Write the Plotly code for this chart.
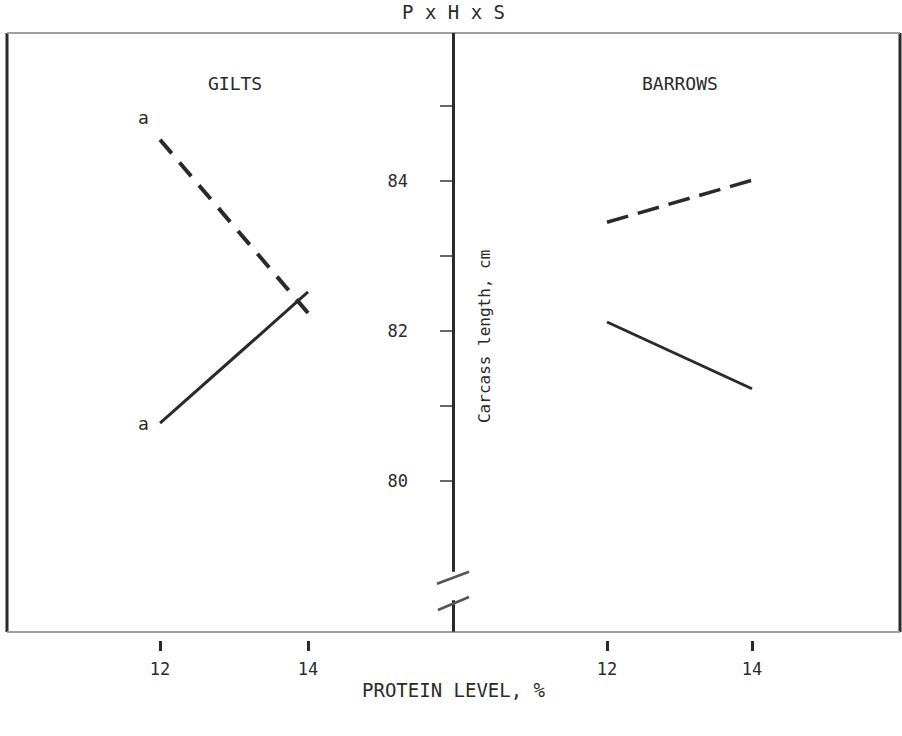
import plotly.graph_objects as go

# ---- data ----
protein = [12, 14]
gilts_dashed = [84.55, 82.24]
gilts_solid = [80.77, 82.52]
barrows_dashed = [83.45, 84.01]
barrows_solid = [82.12, 81.23]
y_tickvals = [80, 81, 82, 83, 84, 85]
y_ticktext = ["80", "", "82", "", "84", ""]
x_tickvals = [12, 14]
x_ticktext = ["12", "14"]

FONT = "DejaVu Sans Mono"
INK = "#2a2a2a"

fig = go.Figure()
fig.add_trace(go.Scatter(x=protein, y=gilts_dashed, mode="lines", xaxis="x", yaxis="y",
                         line=dict(color=INK, width=4, dash="18px,12px"), showlegend=False))
fig.add_trace(go.Scatter(x=protein, y=gilts_solid, mode="lines", xaxis="x", yaxis="y",
                         line=dict(color=INK, width=3), showlegend=False))
fig.add_trace(go.Scatter(x=protein, y=barrows_dashed, mode="lines", xaxis="x2", yaxis="y",
                         line=dict(color=INK, width=3.5, dash="22px,10px"), showlegend=False))
fig.add_trace(go.Scatter(x=protein, y=barrows_solid, mode="lines", xaxis="x2", yaxis="y",
                         line=dict(color=INK, width=3), showlegend=False))

yr = [77.88, 85.973]

xcommon = dict(tickvals=x_tickvals, ticktext=x_ticktext, ticks="outside", ticklen=10,
               tickwidth=2.5, tickcolor=INK, showline=False, showgrid=False, zeroline=False,
               ticklabelstandoff=4,
               tickfont=dict(family=FONT, size=17, color=INK), fixedrange=True)

fig.update_layout(
    width=902, height=736,
    margin=dict(l=7, r=2, t=33, b=96),
    paper_bgcolor="white", plot_bgcolor="white",
    xaxis=dict(domain=[0, 0.5], range=[9.932, 15.966], anchor="y", **xcommon),
    xaxis2=dict(domain=[0.5, 1], range=[9.883, 16.041], anchor="y", **xcommon),
    yaxis=dict(range=yr, anchor="free", position=0.5, side="left",
               tickvals=y_tickvals, ticktext=y_ticktext, ticks="outside", ticklen=14,
               tickwidth=2, tickcolor="#666", showline=False, showgrid=False, zeroline=False,
               ticklabelstandoff=28,
               tickfont=dict(family=FONT, size=17, color=INK)),
    yaxis2=dict(range=yr, anchor="free", position=0.5, side="right", overlaying="y",
                tickvals=y_tickvals, ticks="outside", ticklen=14, tickwidth=2,
                tickcolor="#888", showticklabels=False, showline=False, showgrid=False,
                zeroline=False),
)

# frame (bottom edge sits 8 px above the plot-area bottom so x ticks are detached)
fb = 8 / 607
shapes = [
    dict(type="line", xref="paper", yref="paper", x0=0, x1=0, y0=fb, y1=1,
         line=dict(color=INK, width=3)),
    dict(type="line", xref="paper", yref="paper", x0=1, x1=1, y0=fb, y1=1,
         line=dict(color=INK, width=3)),
    dict(type="line", xref="paper", yref="paper", x0=0, x1=1, y0=1, y1=1,
         line=dict(color="#a0a0a0", width=2)),
    dict(type="line", xref="paper", yref="paper", x0=0, x1=1, y0=fb, y1=fb,
         line=dict(color="#a0a0a0", width=2)),
    # central axis with break
    dict(type="line", xref="paper", yref="y", x0=0.5, x1=0.5, y0=78.79, y1=yr[1],
         line=dict(color=INK, width=3)),
    dict(type="line", xref="paper", yref="y", x0=0.5, x1=0.5, y0=77.99, y1=78.41,
         line=dict(color=INK, width=3)),
    dict(type="line", xref="paper", yref="y", x0=0.4815, x1=0.5174, y0=78.63, y1=78.79,
         line=dict(color="#555", width=2.5)),
    dict(type="line", xref="paper", yref="y", x0=0.4826, x1=0.5174, y0=78.28, y1=78.453,
         line=dict(color="#555", width=2.5)),
]
fig.update_layout(shapes=shapes)

tf = dict(family=FONT, size=18, color=INK)
common = dict(showarrow=False, xanchor="center", yanchor="middle")
ann = [
    dict(text="P x H x S", x=0.5, y=1.0346, xref="paper", yref="paper",
         font=dict(family=FONT, size=19, color=INK), **common),
    dict(text="GILTS", x=0.2553, y=0.9176, xref="paper", yref="paper", font=tf, **common),
    dict(text="BARROWS", x=0.7536, y=0.9176, xref="paper", yref="paper", font=tf, **common),
    dict(text="Carcass length, cm", x=0.5353, y=0.4992, xref="paper", yref="paper",
         textangle=-90, font=dict(family=FONT, size=16, color=INK), **common),
    dict(text="PROTEIN LEVEL, %", x=0.5, y=-0.0824, xref="paper", yref="paper",
         font=dict(family=FONT, size=19, color=INK), **common),
    dict(text="a", x=protein[0], y=gilts_dashed[0], xref="x", yref="y",
         xshift=-17, yshift=22, font=tf, **common),
    dict(text="a", x=protein[0], y=gilts_solid[0], xref="x", yref="y",
         xshift=-17, yshift=0, font=tf, **common),
]
fig.update_layout(annotations=ann)

fig.write_html("out.html")
